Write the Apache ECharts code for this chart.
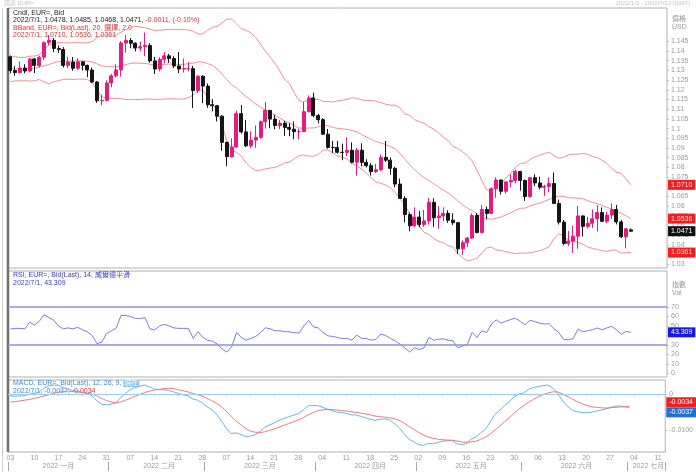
<!DOCTYPE html>
<html><head><meta charset="utf-8">
<script src="https://cdn.jsdelivr.net/npm/echarts@6/dist/echarts.min.js"></script>
<style>html,body{margin:0;padding:0;background:#fff}#c{width:696px;height:472px}</style>
</head><body><div id="c"></div>
<script>
const dates = ['01/03','01/04','01/05','01/06','01/07','01/10','01/11','01/12','01/13','01/14','01/17','01/18','01/19','01/20','01/21','01/24','01/25','01/26','01/27','01/28','01/31',
'02/01','02/02','02/03','02/04','02/07','02/08','02/09','02/10','02/11','02/14','02/15','02/16','02/17','02/18','02/21','02/22','02/23','02/24','02/25','02/28',
'03/01','03/02','03/03','03/04','03/07','03/08','03/09','03/10','03/11','03/14','03/15','03/16','03/17','03/18','03/21','03/22','03/23','03/24','03/25','03/28','03/29','03/30','03/31',
'04/01','04/04','04/05','04/06','04/07','04/08','04/11','04/12','04/13','04/14','04/15','04/18','04/19','04/20','04/21','04/22','04/25','04/26','04/27','04/28','04/29',
'05/02','05/03','05/04','05/05','05/06','05/09','05/10','05/11','05/12','05/13','05/16','05/17','05/18','05/19','05/20','05/23','05/24','05/25','05/26','05/27','05/30','05/31',
'06/01','06/02','06/03','06/06','06/07','06/08','06/09','06/10','06/13','06/14','06/15','06/16','06/17','06/20','06/21','06/22','06/23','06/24','06/27','06/28','06/29','06/30',
'07/01','07/04','07/05','07/06','07/07','07/08','07/11','07/12'];

const opens = [1.1370,1.1299,1.1289,1.1312,1.1297,1.1359,1.1325,1.1368,1.1443,1.1455,1.1413,1.1408,1.1326,1.1343,1.1311,1.1344,1.1326,1.1302,1.1240,1.1144,1.1146,
1.1235,1.1272,1.1302,1.1441,1.1454,1.1440,1.1415,1.1422,1.1428,1.1349,1.1307,1.1357,1.1375,1.1361,1.1323,1.1307,1.1309,1.1309,1.1196,1.1270,
1.1219,1.1123,1.1118,1.1064,1.0929,1.0855,1.0905,1.1077,1.0983,1.0911,1.0941,1.0955,1.1035,1.1094,1.1049,1.1016,1.1028,1.1006,1.0997,1.0984,1.0985,1.1087,1.1158,
1.1067,1.1046,1.0971,1.0903,1.0902,1.0878,1.0877,1.0888,1.0827,1.0889,1.0826,1.0809,1.0778,1.0788,1.0852,1.0837,1.0795,1.0714,1.0640,1.0557,1.0499,
1.0544,1.0506,1.0524,1.0620,1.0540,1.0550,1.0563,1.0528,1.0515,1.0380,1.0412,1.0436,1.0552,1.0464,1.0583,1.0563,1.0690,1.0735,1.0677,1.0725,1.0733,1.0779,
1.0733,1.0650,1.0747,1.0720,1.0698,1.0702,1.0717,1.0614,1.0518,1.0408,1.0420,1.0445,1.0550,1.0496,1.0512,1.0535,1.0567,1.0522,1.0554,1.0583,1.0519,1.0442,
1.0478];
const closes = [1.1299,1.1289,1.1312,1.1297,1.1359,1.1325,1.1368,1.1443,1.1455,1.1413,1.1408,1.1326,1.1343,1.1311,1.1344,1.1326,1.1302,1.1240,1.1144,1.1146,1.1235,
1.1272,1.1302,1.1441,1.1454,1.1440,1.1415,1.1422,1.1428,1.1349,1.1307,1.1357,1.1375,1.1361,1.1323,1.1307,1.1309,1.1309,1.1196,1.1270,1.1219,
1.1123,1.1118,1.1064,1.0929,1.0855,1.0905,1.1077,1.0983,1.0911,1.0941,1.0955,1.1035,1.1094,1.1049,1.1016,1.1028,1.1006,1.0997,1.0984,1.0985,1.1087,1.1158,1.1067,
1.1046,1.0971,1.0903,1.0902,1.0878,1.0877,1.0888,1.0827,1.0889,1.0826,1.0809,1.0778,1.0788,1.0852,1.0837,1.0795,1.0714,1.0640,1.0557,1.0499,1.0544,
1.0506,1.0524,1.0620,1.0540,1.0550,1.0563,1.0528,1.0515,1.0380,1.0412,1.0436,1.0552,1.0464,1.0583,1.0563,1.0690,1.0735,1.0677,1.0725,1.0733,1.0779,1.0733,
1.0650,1.0747,1.0720,1.0698,1.0702,1.0717,1.0614,1.0518,1.0408,1.0420,1.0445,1.0550,1.0496,1.0512,1.0535,1.0567,1.0522,1.0554,1.0583,1.0519,1.0442,1.0484,
1.0471];
const lows = [1.1285,1.1272,1.1284,1.1285,1.1290,1.1286,1.1315,1.1353,1.1431,1.1394,1.1390,1.1315,1.1311,1.1298,1.1302,1.1299,1.1265,1.1235,1.1132,1.1121,1.1140,
1.1213,1.1262,1.1268,1.1391,1.1414,1.1398,1.1400,1.1374,1.1340,1.1281,1.1295,1.1336,1.1339,1.1312,1.1286,1.1289,1.1296,1.1106,1.1183,1.1131,
1.1107,1.1089,1.1037,1.0886,1.0806,1.0850,1.0902,1.0974,1.0904,1.0900,1.0901,1.0947,1.1000,1.1002,1.0996,1.0997,1.0962,1.0961,1.0945,1.0944,1.0982,1.1083,1.1058,
1.1027,1.0968,1.0896,1.0874,1.0871,1.0837,1.0858,1.0821,1.0758,1.0806,1.0800,1.0758,1.0771,1.0781,1.0828,1.0762,1.0698,1.0637,1.0516,1.0471,1.0491,
1.0491,1.0493,1.0505,1.0493,1.0484,1.0522,1.0514,1.0502,1.0354,1.0350,1.0389,1.0432,1.0460,1.0460,1.0532,1.0560,1.0643,1.0660,1.0664,1.0697,1.0718,1.0680,
1.0627,1.0643,1.0703,1.0686,1.0653,1.0671,1.0611,1.0506,1.0398,1.0395,1.0359,1.0381,1.0443,1.0485,1.0488,1.0470,1.0518,1.0513,1.0535,1.0506,1.0436,1.0383,
1.0468];
const highs = [1.1377,1.1322,1.1346,1.1332,1.1364,1.1364,1.1375,1.1450,1.1482,1.1467,1.1428,1.1420,1.1370,1.1369,1.1363,1.1348,1.1330,1.1315,1.1245,1.1175,1.1249,
1.1281,1.1332,1.1451,1.1483,1.1467,1.1445,1.1448,1.1495,1.1440,1.1369,1.1368,1.1395,1.1385,1.1373,1.1395,1.1361,1.1343,1.1323,1.1274,1.1275,
1.1233,1.1152,1.1122,1.1070,1.0933,1.0950,1.1092,1.1121,1.1044,1.0986,1.1016,1.1042,1.1137,1.1095,1.1071,1.1045,1.1040,1.1028,1.1037,1.1000,1.1137,1.1171,1.1185,
1.1076,1.1054,1.0998,1.0937,1.0937,1.0922,1.0955,1.0929,1.0900,1.0924,1.0842,1.0822,1.0818,1.0867,1.0936,1.0851,1.0803,1.0742,1.0652,1.0568,1.0594,
1.0576,1.0581,1.0642,1.0641,1.0600,1.0594,1.0579,1.0564,1.0519,1.0424,1.0442,1.0563,1.0565,1.0605,1.0598,1.0697,1.0749,1.0737,1.0729,1.0765,1.0787,1.0782,
1.0737,1.0751,1.0764,1.0752,1.0710,1.0748,1.0774,1.0634,1.0529,1.0473,1.0499,1.0601,1.0552,1.0545,1.0583,1.0606,1.0594,1.0571,1.0615,1.0606,1.0530,1.0486,
1.0485];

const bbUpper = [1.1371,1.1370,1.1367,1.1367,1.1373,1.1374,1.1380,1.1407,1.1431,1.1437,1.1444,1.1442,1.1442,1.1442,1.1443,1.1442,1.1443,1.1448,1.1470,1.1481,
1.1482,1.1482,1.1481,1.1497,1.1510,1.1522,1.1527,1.1524,1.1519,1.1513,1.1505,1.1507,1.1509,1.1512,1.1511,1.1510,1.1511,1.1509,1.1502,1.1487,
1.1488,1.1507,1.1522,1.1527,1.1545,1.1564,1.1564,1.1540,1.1515,1.1506,1.1494,1.1469,1.1435,1.1400,1.1369,1.1336,1.1298,1.1254,1.1232,1.1185,
1.1145,1.1138,1.1148,1.1149,1.1151,1.1140,1.1140,1.1137,1.1143,1.1146,1.1150,1.1159,1.1156,1.1148,1.1145,1.1146,1.1141,1.1134,1.1126,1.1121,
1.1120,1.1106,1.1076,1.1068,1.1046,1.1036,1.1029,1.1010,1.0997,1.0979,1.0955,1.0939,1.0908,1.0898,1.0880,1.0861,1.0833,1.0785,1.0734,1.0684,
1.0678,1.0701,1.0717,1.0745,1.0769,1.0801,1.0820,1.0822,1.0841,1.0854,1.0862,1.0871,1.0878,1.0861,1.0847,1.0852,1.0865,1.0868,1.0868,1.0872,
1.0868,1.0856,1.0850,1.0837,1.0821,1.0795,1.0775,1.0769,1.0739,1.0710];
const bbMiddle = [1.1307,1.1308,1.1306,1.1307,1.1309,1.1311,1.1316,1.1324,1.1330,1.1339,1.1345,1.1348,1.1348,1.1348,1.1349,1.1349,1.1348,1.1343,1.1334,1.1323,
1.1319,1.1319,1.1318,1.1325,1.1330,1.1336,1.1338,1.1337,1.1336,1.1332,1.1327,1.1329,1.1331,1.1333,1.1332,1.1331,1.1331,1.1335,1.1337,1.1344,
1.1343,1.1335,1.1326,1.1307,1.1281,1.1252,1.1226,1.1209,1.1187,1.1165,1.1147,1.1127,1.1110,1.1096,1.1083,1.1068,1.1054,1.1039,1.1029,1.1015,
1.1003,1.1001,1.1003,1.1003,1.1009,1.1015,1.1015,1.1006,1.1001,1.0999,1.0996,1.0990,1.0983,1.0969,1.0957,1.0945,1.0933,1.0926,1.0918,1.0908,
1.0895,1.0872,1.0842,1.0814,1.0789,1.0766,1.0747,1.0732,1.0716,1.0699,1.0683,1.0668,1.0649,1.0627,1.0607,1.0590,1.0578,1.0559,1.0546,1.0535,
1.0533,1.0538,1.0544,1.0555,1.0565,1.0579,1.0589,1.0590,1.0601,1.0609,1.0616,1.0625,1.0635,1.0647,1.0652,1.0650,1.0644,1.0643,1.0641,1.0638,
1.0629,1.0619,1.0614,1.0603,1.0594,1.0585,1.0574,1.0564,1.0550,1.0536];
const bbLower = [1.1242,1.1246,1.1246,1.1247,1.1245,1.1247,1.1253,1.1241,1.1230,1.1241,1.1247,1.1254,1.1255,1.1253,1.1255,1.1255,1.1254,1.1237,1.1197,1.1165,
1.1157,1.1156,1.1155,1.1154,1.1150,1.1150,1.1149,1.1150,1.1152,1.1152,1.1150,1.1151,1.1152,1.1154,1.1153,1.1152,1.1152,1.1160,1.1173,1.1201,
1.1197,1.1163,1.1130,1.1088,1.1017,1.0939,1.0889,1.0878,1.0858,1.0824,1.0799,1.0784,1.0785,1.0792,1.0797,1.0800,1.0810,1.0824,1.0826,1.0844,
1.0860,1.0864,1.0858,1.0858,1.0867,1.0890,1.0889,1.0875,1.0858,1.0852,1.0843,1.0821,1.0809,1.0791,1.0770,1.0745,1.0725,1.0718,1.0709,1.0695,
1.0669,1.0639,1.0609,1.0559,1.0532,1.0495,1.0465,1.0455,1.0434,1.0419,1.0411,1.0397,1.0390,1.0356,1.0334,1.0319,1.0323,1.0332,1.0358,1.0385,
1.0389,1.0375,1.0371,1.0366,1.0360,1.0356,1.0358,1.0358,1.0360,1.0365,1.0370,1.0379,1.0391,1.0433,1.0457,1.0449,1.0422,1.0418,1.0414,1.0404,
1.0390,1.0382,1.0377,1.0370,1.0367,1.0374,1.0373,1.0358,1.0361,1.0361];

const rsi = [46.8,47.5,47.5,47,54,51,55,61.8,59,56,50,47,48,47,48.6,46,44,40,31.4,33,42,
45,48,61,61,60,58,58,58.6,47,46,50,51.8,50,48,47.5,47.5,47.5,37,44,38,
35,34,31,26,22.5,28,43,38,35,37,39,43,48.2,47,45,45,44,43.9,43,42.5,50,55.7,49,
48,43,39.6,39,38,36.8,37,35,40.4,37,36.8,35,36,41.4,40,37,34.3,31,27,22.5,27,
25,27,37.9,35,36,36.5,35,34.3,27.1,29,30.7,43.2,38,45,43,52,56.4,53,55,56.8,58.2,55,
51,56,54.6,53,52.1,52.5,47,43.2,36,35.4,36.8,46.8,44,45,46,47.9,46,48,49.6,46,41.4,44.3,
43.309];

const macd = [-5,-6,-5,-5,0,1,6,16,23,25,24,18,14,10,8,5,2,-5,-18,-28,-30,
-28,-24,-10,2,12,18,22,25,20,14,12,12,10,6,2,-2,-5,-14,-17,-25,
-35,-44,-56,-75,-95,-110,-108,-112,-118,-117,-113,-104,-93,-86,-80,-73,-68,-63,-59,-55,-45,-33,-32,
-32,-36,-42,-46,-50,-52,-53,-58,-58,-62,-66,-70,-73,-70,-69,-72,-81,-93,-109,-125,-132,
-140,-143,-138,-138,-135,-131,-130,-129,-138,-140,-138,-125,-120,-108,-98,-78,-57,-45,-32,-21,-8,0,
3,13,18,21,23,25,17,3,-17,-32,-44,-49,-51,-52,-51,-48,-45,-42,-38,-34,-33,-36,
-37].map(v => v / 10000);
const signal = [-22,-21,-19,-17,-15,-12,-9,-5,-2,2,5,7,8,7,6,4,2,0,-5,-12,-18,
-22,-24,-22,-17,-12,-6,-1,4,8,11,13,15,16,15,12,9,6,2,-2,-6,
-12,-19,-26,-35,-48,-62,-75,-85,-95,-103,-106,-107,-105,-101,-97,-92,-87,-82,-77,-72,-66,-58,-52,
-47,-44,-43,-43,-44,-46,-47,-49,-51,-53,-55,-58,-61,-63,-64,-66,-68,-73,-80,-89,-97,
-106,-113,-119,-123,-125,-127,-128,-128,-130,-133,-134,-133,-131,-126,-120,-111,-100,-89,-77,-66,-53,-42,
-32,-23,-15,-8,-2,3,6,6,1,-6,-13,-20,-26,-31,-35,-37,-38,-39,-38,-37,-36,-35,
-34].map(v => v / 10000);

const weekTicks = ['01/03','01/10','01/17','01/24','01/31','02/07','02/14','02/21','02/28','03/07','03/14','03/21','03/28','04/04','04/11','04/18','04/25','05/02','05/09','05/16','05/23','05/30','06/06','06/13','06/20','06/27','07/04','07/11'];
const monthStarts = ['01/03','02/01','03/01','04/01','05/02','06/01','07/01'];
const monthMid = ['01/17','02/15','03/16','04/18','05/17','06/16','07/07'];
const monthNames = ['2022 一月','2022 二月','2022 三月','2022 四月','2022 五月','2022 六月','2022 七月'];
const priceTicks = [1.03,1.035,1.04,1.045,1.05,1.055,1.06,1.065,1.07,1.075,1.08,1.085,1.09,1.095,1.1,1.105,1.11,1.115,1.12,1.125,1.13,1.135,1.14,1.145];
const rsiTicks = [0,10,20,30,40,50,60,70];
const macdTicks = [-0.01,0];

const FONT = 'Liberation Sans, "Noto Sans CJK TC", sans-serif';
const UP = '#e8197f', DOWN = '#151515', BAND = '#f29090';
const last = closes.length - 1;
const candles = opens.map((o, i) => [o, closes[i], lows[i], highs[i]]);

function boxLabel(bg, fg, digits, dy) {
  return { show: true, position: 'end', distance: 1, offset: [0, dy || 0],
    formatter: p => Number(p.value).toFixed(digits), backgroundColor: bg, color: fg,
    fontSize: 7, fontFamily: FONT, padding: [1, 3, 1, 3], lineHeight: 8 };
}
const hidden = { color: 'rgba(0,0,0,0)', width: 0 };
function valueBox(v, bg, fg, digits, dy) {
  return { silent: true, precision: 6, symbol: ['none', 'none'], lineStyle: hidden,
    labelLayout: { hideOverlap: false }, data: [{ yAxis: v }], label: boxLabel(bg, fg, digits, dy) };
}

const chart = echarts.init(document.getElementById('c'));
const axisLabelStyle = { fontSize: 7, color: '#9a9a9a', fontFamily: FONT };

chart.setOption({
  animation: false,
  backgroundColor: '#ffffff',
  grid: [
    { left: 8, top: 8, width: 659, height: 260, show: true, borderColor: '#b0b0b0', borderWidth: 1 },
    { left: 8, top: 271, width: 659, height: 106, show: true, borderColor: '#b0b0b0', borderWidth: 1 },
    { left: 8, top: 380, width: 659, height: 72, show: true, borderColor: '#b0b0b0', borderWidth: 1 }
  ],
  xAxis: [
    { type: 'category', gridIndex: 0, data: dates, show: false },
    { type: 'category', gridIndex: 1, data: dates, show: false },
    { type: 'category', gridIndex: 2, data: dates, axisLine: { show: false },
      axisTick: { show: true, interval: (i, v) => weekTicks.includes(v), alignWithLabel: true, length: 2, lineStyle: { color: '#c0c0c0' } },
      axisLabel: Object.assign({ interval: (i, v) => weekTicks.includes(v), formatter: v => v.slice(3), margin: 3 }, axisLabelStyle) },
    { type: 'category', gridIndex: 2, data: dates, position: 'bottom', offset: 10, axisLine: { show: false },
      axisTick: { show: true, interval: (i, v) => monthStarts.includes(v), length: 9, lineStyle: { color: '#a8a8a8' } },
      axisLabel: Object.assign({ interval: (i, v) => monthMid.includes(v), formatter: v => monthNames[monthMid.indexOf(v)], margin: 1 }, axisLabelStyle) }
  ],
  yAxis: [
    { type: 'value', gridIndex: 0, position: 'right', min: 1.02814, max: 1.16216, splitLine: { show: false },
      axisLine: { show: false }, axisTick: { show: true, length: 2, customValues: priceTicks, lineStyle: { color: '#c0c0c0' } },
      axisLabel: Object.assign({ customValues: priceTicks, margin: 4 }, axisLabelStyle) },
    { type: 'value', gridIndex: 1, position: 'right', min: -3.7, max: 107.9, splitLine: { show: false },
      axisLine: { show: false }, axisTick: { show: true, length: 2, customValues: rsiTicks, lineStyle: { color: '#c0c0c0' } },
      axisLabel: Object.assign({ customValues: rsiTicks, margin: 4 }, axisLabelStyle) },
    { type: 'value', gridIndex: 2, position: 'right', min: -0.0161, max: 0.0039, splitLine: { show: false },
      axisLine: { show: false }, axisTick: { show: true, length: 2, customValues: macdTicks, lineStyle: { color: '#c0c0c0' } },
      axisLabel: Object.assign({ customValues: macdTicks, margin: 4, formatter: v => v === 0 ? '0' : v.toFixed(4) }, axisLabelStyle) }
  ],
  series: [
    { type: 'line', xAxisIndex: 0, yAxisIndex: 0, data: bbUpper, symbol: 'none', lineStyle: { color: BAND, width: 1 }, z: 2,
      markLine: valueBox(bbUpper[last], '#f01e1e', '#ffd8d8', 4) },
    { type: 'line', xAxisIndex: 0, yAxisIndex: 0, data: bbMiddle, symbol: 'none', lineStyle: { color: BAND, width: 1 }, z: 2,
      markLine: valueBox(bbMiddle[last], '#f01e1e', '#ffd8d8', 4) },
    { type: 'line', xAxisIndex: 0, yAxisIndex: 0, data: bbLower, symbol: 'none', lineStyle: { color: BAND, width: 1 }, z: 2,
      markLine: valueBox(bbLower[last], '#f01e1e', '#ffd8d8', 4) },
    { type: 'candlestick', xAxisIndex: 0, yAxisIndex: 0, data: candles, barWidth: 3.5, z: 3,
      itemStyle: { color: UP, color0: DOWN, borderColor: UP, borderColor0: DOWN, borderWidth: 1 },
      markLine: valueBox(closes[last], '#111111', '#ffffff', 4) },
    { type: 'line', xAxisIndex: 1, yAxisIndex: 1, data: rsi, symbol: 'none', lineStyle: { color: '#7a7ae4', width: 1 },
      markLine: { silent: true, precision: 6, symbol: ['none', 'none'], data: [
        { yAxis: 70, lineStyle: { color: '#8c8ce8', width: 1.5, type: 'solid' }, label: { show: false } },
        { yAxis: 30, lineStyle: { color: '#8c8ce8', width: 1.5, type: 'solid' }, label: { show: false } },
        { yAxis: rsi[last], lineStyle: hidden, label: boxLabel('#1717e6', '#ffffff', 3) }
      ] } },
    { type: 'line', xAxisIndex: 2, yAxisIndex: 2, data: macd, symbol: 'none', lineStyle: { color: '#69b3ec', width: 1 },
      markLine: { silent: true, precision: 6, symbol: ['none', 'none'], data: [
        { yAxis: 0, lineStyle: { color: '#9dcdf2', width: 1.2, type: 'solid' }, label: { show: false } },
        { yAxis: macd[last], lineStyle: hidden, label: boxLabel('#1f6fd6', '#ffffff', 4, 5) }
      ] } },
    { type: 'line', xAxisIndex: 2, yAxisIndex: 2, data: signal, symbol: 'none', lineStyle: { color: '#f07a7a', width: 1 },
      markLine: valueBox(signal[last], '#f01e1e', '#ffffff', 4, -4) }
  ],
  graphic: [
    { type: 'line', shape: { x1: 2.5, y1: 8, x2: 2.5, y2: 472 }, style: { stroke: '#d0d0d0', lineWidth: 1 }, silent: true },
    { type: 'line', shape: { x1: 8, y1: 8, x2: 8, y2: 452 }, style: { stroke: '#707070', lineWidth: 2.5 }, silent: true },
    { type: 'text', left: 4, top: 0, style: { text: '圖表 EUR=', fill: '#c4c4c4', font: '6px ' + FONT } },
    { type: 'text', right: 6, top: 0, style: { text: '2022/1/3 - 2022/7/12 (GMT)', fill: '#c4c4c4', font: '6px ' + FONT } },
    { type: 'text', left: 13, top: 10, style: { text: 'Cndl, EUR=, Bid', fill: '#222', font: '7px ' + FONT } },
    { type: 'text', left: 13, top: 17, style: { text: '{a|2022/7/1, 1.0478, 1.0485, 1.0468, 1.0471, }{b|-0.0011, (-0.10%)}', font: '7px ' + FONT,
      rich: { a: { fill: '#222', font: '7px ' + FONT }, b: { fill: '#e03030', font: '7px ' + FONT } } } },
    { type: 'text', left: 13, top: 25, style: { text: 'BBand, EUR=, Bid(Last), 20, 選擇, 2.0', fill: '#e03030', font: '7px ' + FONT } },
    { type: 'text', left: 13, top: 32, style: { text: '2022/7/1, 1.0710, 1.0536, 1.0361', fill: '#e03030', font: '7px ' + FONT } },
    { type: 'text', left: 13, top: 272, style: { text: 'RSI, EUR=, Bid(Last), 14, 威爾德平滑', fill: '#3a3ad0', font: '7px ' + FONT } },
    { type: 'text', left: 13, top: 280, style: { text: '2022/7/1, 43.309', fill: '#3a3ad0', font: '7px ' + FONT } },
    { type: 'text', left: 13, top: 380, style: { text: '{a|MACD, EUR=, Bid(Last), 12, 26, 9, }{c|現在}', font: '7px ' + FONT,
      rich: { a: { fill: '#3a8ad8', font: '7px ' + FONT }, c: { fill: '#ffffff', backgroundColor: '#8fc4ee', font: '7px ' + FONT, padding: [0, 1] } } } },
    { type: 'text', left: 13, top: 388, style: { text: '{a|2022/7/1, -0.0037, }{b|-0.0034}', font: '7px ' + FONT,
      rich: { a: { fill: '#3a8ad8', font: '7px ' + FONT }, b: { fill: '#e03030', font: '7px ' + FONT } } } },
    { type: 'text', left: 672, top: 16, style: { text: '價格', fill: '#9a9a9a', font: '7px ' + FONT } },
    { type: 'text', left: 672, top: 24, style: { text: 'USD', fill: '#9a9a9a', font: '7px ' + FONT } },
    { type: 'text', left: 672, top: 282, style: { text: '指數', fill: '#9a9a9a', font: '7px ' + FONT } },
    { type: 'text', left: 672, top: 290, style: { text: 'Val', fill: '#9a9a9a', font: '7px ' + FONT } }
  ]
});
</script>
</body></html>
